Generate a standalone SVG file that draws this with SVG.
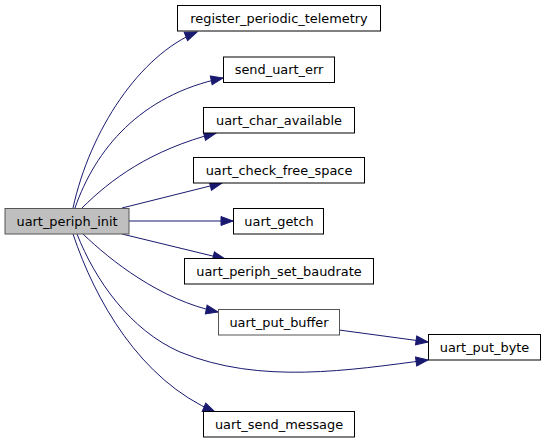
<svg xmlns="http://www.w3.org/2000/svg" width="545" height="443" viewBox="0 0 545 443">
<style>
.n rect{fill:#ffffff;stroke:#000000;stroke-width:1}
.n.g rect{stroke:#555555}
.n.root rect{fill:#bfbfbf}
.n text{font-family:"DejaVu Sans","Liberation Sans",sans-serif;font-size:12.9px;fill:#000000;text-anchor:middle}
.e path{fill:none;stroke:#191970;stroke-width:1}
</style>
<defs>
<marker id="ah" markerUnits="userSpaceOnUse" markerWidth="14" markerHeight="11" refX="12" refY="4.5" orient="auto" viewBox="-1 -1 14 11">
<path d="M0,0 L12,4.5 L0,9 z" fill="#191970" stroke="#191970"/>
</marker>
</defs>
<rect width="545" height="443" fill="#ffffff"/>
<g class="e" id="edges">
<path marker-end="url(#ah)" d="M73,208 C90,130 140,55 197,32"/>
<path marker-end="url(#ah)" d="M75,208 C95,150 140,95 223,78"/>
<path marker-end="url(#ah)" d="M82,208 C110,180 150,150 216,133"/>
<path marker-end="url(#ah)" d="M122,208 L222,183"/>
<path marker-end="url(#ah)" d="M129,221 L233,221"/>
<path marker-end="url(#ah)" d="M122,234 L225,259"/>
<path marker-end="url(#ah)" d="M83,234 C110,260 160,300 218,312"/>
<path marker-end="url(#ah)" d="M77,234 C95,280 130,330 180,352 C260,385 350,370 428,360"/>
<path marker-end="url(#ah)" d="M73,234 C95,300 140,380 215,412"/>
<path marker-end="url(#ah)" d="M339,330 L428,342"/>
</g>
<g class="n g root" id="uart_periph_init"><rect x="5" y="208.5" width="124" height="25.5"/><text x="67" y="225.5">uart_periph_init</text></g>
<g class="n" id="register_periodic_telemetry"><rect x="177.5" y="5.5" width="203" height="25.5"/><text x="279" y="22.5">register_periodic_telemetry</text></g>
<g class="n" id="send_uart_err"><rect x="223.5" y="57" width="111" height="25.5"/><text x="279" y="74">send_uart_err</text></g>
<g class="n" id="uart_char_available"><rect x="203.5" y="107.5" width="151" height="25.5"/><text x="279" y="124.5">uart_char_available</text></g>
<g class="n" id="uart_check_free_space"><rect x="193.5" y="157.5" width="171" height="25.5"/><text x="279" y="174.5">uart_check_free_space</text></g>
<g class="n" id="uart_getch"><rect x="233.5" y="208.5" width="90" height="25.5"/><text x="279" y="225.5">uart_getch</text></g>
<g class="n" id="uart_periph_set_baudrate"><rect x="184.5" y="258.5" width="189" height="25.5"/><text x="279" y="275.5">uart_periph_set_baudrate</text></g>
<g class="n g" id="uart_put_buffer"><rect x="218.5" y="309.5" width="121" height="25.5"/><text x="279" y="326.5">uart_put_buffer</text></g>
<g class="n" id="uart_put_byte"><rect x="428.5" y="334.5" width="112" height="25.5"/><text x="484.5" y="351.5">uart_put_byte</text></g>
<g class="n" id="uart_send_message"><rect x="203.5" y="411.5" width="151" height="25.5"/><text x="279" y="428.5">uart_send_message</text></g>
</svg>
